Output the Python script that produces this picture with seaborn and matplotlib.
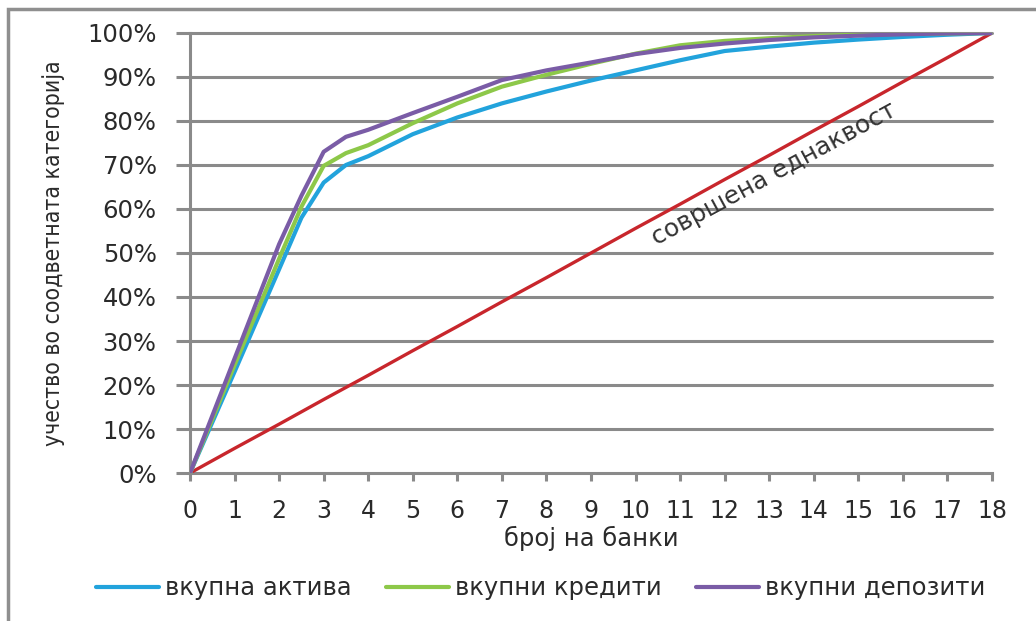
import pandas as pd
import seaborn as sns
import matplotlib.pyplot as plt
from matplotlib.patches import Rectangle
from matplotlib.ticker import FuncFormatter

# number of banks (extra half steps read around the bend)
banks = [0, 1, 2, 2.5, 3, 3.5, 4, 5, 6, 7, 8, 9, 10, 11, 12, 13, 14, 15, 16, 17, 18]
x_ticks = list(range(19))

# cumulative shares (%)
assets = [0, 23, 46.3, 58, 66, 70, 72, 77, 80.8, 84, 86.7, 89.2, 91.5, 93.8, 95.9, 96.9, 97.8, 98.5, 99.1, 99.6, 100]
loans = [0, 24.5, 48.7, 60.5, 69.8, 72.7, 74.5, 79.5, 84, 87.8, 90.5, 93, 95.3, 97.2, 98.2, 98.8, 99.3, 99.6, 99.8, 99.9, 100]
deposits = [0, 26, 52, 63, 73, 76.4, 78, 81.8, 85.5, 89.3, 91.5, 93.3, 95.2, 96.6, 97.6, 98.4, 99, 99.4, 99.7, 99.9, 100]
equality = [0, 5.6, 11.1, 16.7, 22.2, 27.8, 33.3, 38.9, 44.4, 50, 55.6, 61.1, 66.7, 72.2, 77.8, 83.3, 88.9, 94.4, 100]

series_names = ["вкупна актива", "вкупни кредити", "вкупни депозити"]
y_ticks = [0, 10, 20, 30, 40, 50, 60, 70, 80, 90, 100]

colors = {"вкупна актива": "#22a3dc", "вкупни кредити": "#8dc849", "вкупни депозити": "#7a5ca6"}
red = "#c8262c"
grid_gray = "#8a8a8a"
text_col = "#2a2a2a"


def build_df():
    frames = []
    for name, vals in zip(series_names, [assets, loans, deposits]):
        frames.append(pd.DataFrame({"banks": banks, "share": vals, "series": name}))
    return pd.concat(frames, ignore_index=True)


def main():
    sns.set_style("white")
    plt.rcParams['font.family'] = ['DejaVu Sans']
    df = build_df()

    fig = plt.figure(figsize=(10.36, 6.21), dpi=100)
    ax = fig.add_axes([0.1834, 0.2383, 0.7741, 0.7086])

    for y in y_ticks[1:]:
        ax.axhline(y, color=grid_gray, lw=2.2, zorder=1, clip_on=False)

    sns.lineplot(x=x_ticks, y=equality, ax=ax, color=red, lw=2.4, legend=False, zorder=3)
    sns.lineplot(data=df, x="banks", y="share", hue="series", palette=colors,
                 hue_order=series_names, ax=ax, lw=3, zorder=4, legend=False)

    ax.set_xlim(0, 18)
    ax.set_ylim(0, 100)
    ax.set_xticks(x_ticks)
    ax.set_yticks(y_ticks)
    ax.yaxis.set_major_formatter(FuncFormatter(lambda v, p: "{:.0f}%".format(v)))
    for s in ["top", "right"]:
        ax.spines[s].set_visible(False)
    for s in ["left", "bottom"]:
        ax.spines[s].set_color(grid_gray)
        ax.spines[s].set_linewidth(2.2)
    ax.tick_params(axis="y", length=10, width=2.2, color=grid_gray, labelsize=17.5,
                   labelcolor=text_col, pad=14, left=True)
    ax.tick_params(axis="x", length=6, width=2.2, color=grid_gray, labelsize=17,
                   labelcolor=text_col, pad=13, bottom=True)

    ax.set_xlabel("број на банки", fontsize=17.5, color=text_col, labelpad=2)
    ax.set_ylabel("учество во соодветната категорија", fontsize=16.5, color=text_col,
                  fontstretch="condensed", labelpad=16)

    ax.text(13.1, 68.0, "совршена еднаквост", rotation=28.5, fontsize=18, color="#333333",
            ha="center", va="center", zorder=5)

    handles = [plt.Line2D([], [], color=colors[n], lw=3) for n in series_names]
    fig.legend(handles, series_names, loc="center", bbox_to_anchor=(0.522, 0.053), ncol=3,
               frameon=False, fontsize=17.5, handlelength=2.6, columnspacing=1.4,
               handletextpad=0.25, labelcolor=text_col)

    fig.add_artist(Rectangle((8 / 1036, -0.2), 1.2, 1.2 - 9 / 621, transform=fig.transFigure,
                             fill=False, edgecolor="#8f8f8f", lw=2.5, clip_on=False))

    fig.savefig("out.png", dpi=100)
    plt.close()


if __name__ == '__main__':
    main()
